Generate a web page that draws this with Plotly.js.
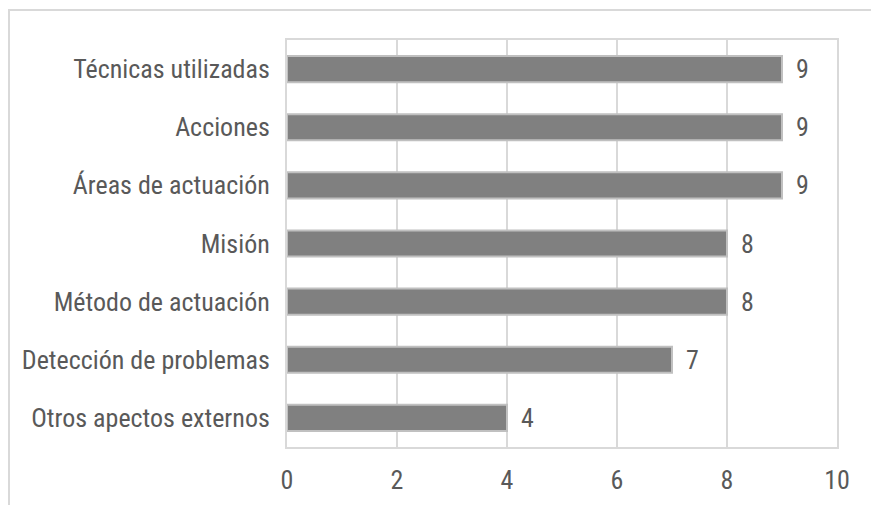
<!DOCTYPE html>
<html>
<head>
<meta charset="utf-8">
<script src="https://cdn.plot.ly/plotly-3.0.1.min.js"></script>
<style>
html,body{margin:0;padding:0;background:#fff;overflow:hidden;}
#chart{position:absolute;left:0;top:0;width:871px;height:505px;}
#frame{position:absolute;left:8px;top:9px;width:900px;height:600px;border-left:2px solid #d9d9d9;border-top:2px solid #d9d9d9;pointer-events:none;}
</style>
</head>
<body>
<div id="chart"></div>
<div id="frame"></div>
<script>
const categories = ["Otros apectos externos","Detección de problemas","Método de actuación","Misión","Áreas de actuación","Acciones","Técnicas utilizadas"];
const values = [4,7,8,8,9,9,9];
const xTicks = [0,2,4,6,8,10];

const FONT = "'Liberation Sans Narrow','Arial Narrow','Roboto Condensed',sans-serif";
const FS = 26;

const trace = {
  type: 'bar',
  orientation: 'h',
  y: categories,
  x: values,
  marker: {color: '#808080', line: {color: '#c0c0c0', width: 2}},
  width: 0.45,
  hoverinfo: 'none'
};

const annotations = categories.map((c,i)=>({
  x: values[i], y: c, xref:'x', yref:'y',
  text: String(values[i]), showarrow:false,
  xanchor:'left', xshift: 12,
  font:{family:FONT, size:FS, color:'#595959'}
}));

const layout = {
  width: 871, height: 505,
  margin: {l:287, r:34, t:40, b:58, pad:0},
  paper_bgcolor:'#ffffff', plot_bgcolor:'#ffffff',
  showlegend:false,
  font:{family:FONT, size:FS, color:'#595959'},
  xaxis:{
    range:[0,10], tickvals:xTicks, ticktext:xTicks.map(String),
    showgrid:true, gridcolor:'#d9d9d9', gridwidth:2,
    zeroline:false, showline:true, linecolor:'#d9d9d9', linewidth:2, mirror:true,
    ticks:'outside', ticklen:9, tickcolor:'rgba(0,0,0,0)',
    tickfont:{family:FONT, size:FS, color:'#595959'},
    fixedrange:true
  },
  yaxis:{
    type:'category', categoryorder:'array', categoryarray:categories,
    showgrid:false, zeroline:false, showline:true, linecolor:'#d9d9d9', linewidth:2, mirror:true,
    ticks:'outside', ticklen:10, tickcolor:'rgba(0,0,0,0)',
    tickfont:{family:FONT, size:FS, color:'#595959'},
    fixedrange:true
  },
  annotations: annotations
};

Plotly.newPlot('chart',[trace],layout,{displayModeBar:false,staticPlot:true});
</script>
</body>
</html>
